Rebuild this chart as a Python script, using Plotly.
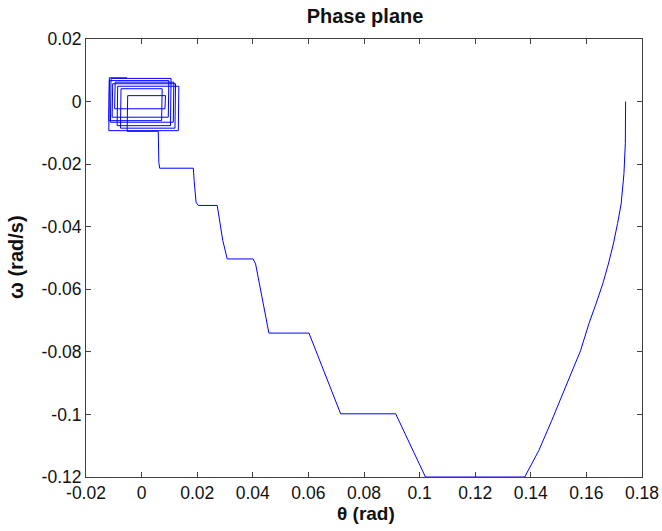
import plotly.graph_objects as go

# Trajectory vertices (theta in rad, omega in rad/s)
theta_main = [0.1741, 0.1740, 0.1735, 0.1725, 0.1712, 0.1697, 0.1679, 0.1659, 0.1637, 0.1609,
              0.1579, 0.1545, 0.1507, 0.1475, 0.1429, 0.1378, 0.1021, 0.0914, 0.0716, 0.0602,
              0.0458, 0.0422, 0.0410, 0.0401, 0.0308, 0.0292, 0.0280, 0.0272, 0.0204, 0.0196,
              0.0189, 0.0186, 0.0065, 0.0062, 0.0060]
omega_main = [0.0, -0.0135, -0.0231, -0.0327, -0.0390, -0.0455, -0.0519, -0.0582, -0.0640, -0.0710,
              -0.0796, -0.0870, -0.0955, -0.1020, -0.1115, -0.1200, -0.1200, -0.0998, -0.0998, -0.0740,
              -0.0740, -0.0572, -0.0519, -0.0503, -0.0503, -0.0444, -0.0370, -0.0332, -0.0332, -0.0322,
              -0.0252, -0.0213, -0.0213, -0.0194, -0.0095]

# rectangular spiral near the origin (edges read from the tangle)
theta_spiral = [-0.0052, -0.0050, 0.0086, 0.0084, -0.0097, -0.0095, 0.0116, 0.0114, -0.0112, -0.0110,
                0.0106, 0.0104, -0.0088, -0.0086, 0.0134, 0.0132, -0.0118, -0.0116, 0.0098, 0.0096,
                -0.0106, -0.0104, 0.0122, 0.0120, -0.0076, -0.0074, 0.0074, 0.0072, -0.0118, -0.0116,
                -0.0052]
omega_spiral = [-0.0095, 0.0019, 0.0019, -0.0023, -0.0023, 0.0062, 0.0062, -0.0066, -0.0066, 0.0074,
                0.0074, -0.0077, -0.0077, 0.0049, 0.0049, -0.0093, -0.0093, 0.0067, 0.0067, -0.0050,
                -0.0050, 0.0057, 0.0057, -0.0085, -0.0085, 0.0041, 0.0041, -0.0061, -0.0061, 0.0076,
                0.0076]

x_ticks = [-0.02, 0, 0.02, 0.04, 0.06, 0.08, 0.1, 0.12, 0.14, 0.16, 0.18]
x_labels = ["-0.02", "0", "0.02", "0.04", "0.06", "0.08", "0.1", "0.12", "0.14", "0.16", "0.18"]
y_ticks = [-0.12, -0.1, -0.08, -0.06, -0.04, -0.02, 0, 0.02]
y_labels = ["-0.12", "-0.1", "-0.08", "-0.06", "-0.04", "-0.02", "0", "0.02"]

theta = theta_main + theta_spiral
omega = omega_main + omega_spiral

fig = go.Figure()
fig.add_trace(go.Scatter(x=theta, y=omega, mode="lines",
                         line=dict(color="#0000ff", width=1), showlegend=False))

font_family = "Liberation Sans, Arial, Helvetica, sans-serif"
axis_common = dict(showline=True, linecolor="#404040", linewidth=1, mirror="allticks",
                   ticks="inside", ticklen=5, tickcolor="#404040", showgrid=False,
                   zeroline=False, tickfont=dict(family=font_family, size=17.5, color="#111111"))

fig.update_layout(
    width=662, height=531,
    margin=dict(l=86, r=20, t=39, b=54, autoexpand=False),
    paper_bgcolor="white", plot_bgcolor="white",
    title=dict(text="<b>Phase plane</b>", x=365 / 662, xanchor="center",
               y=1 - 16 / 531, yanchor="middle",
               font=dict(family=font_family, size=20, color="#111111")),
    xaxis=dict(range=[-0.02, 0.18], tickvals=x_ticks, ticktext=x_labels, **axis_common),
    yaxis=dict(range=[-0.12, 0.02], tickvals=y_ticks, ticktext=y_labels, **axis_common),
    annotations=[
        dict(text="<b>θ (rad)</b>", xref="paper", yref="paper", x=(366 - 86) / 556, y=-(513 - 477) / 438,
             xanchor="center", yanchor="middle", showarrow=False,
             font=dict(family=font_family, size=19, color="#111111")),
        dict(text="<b>ω (rad/s)</b>", xref="paper", yref="paper", x=(16 - 86) / 556, y=(477 - 257) / 438,
             xanchor="center", yanchor="middle", showarrow=False, textangle=-90,
             font=dict(family=font_family, size=20, color="#111111")),
    ],
)

fig.write_html("out.html", config={"displayModeBar": False},
               post_script="document.body.style.margin='0';document.body.style.overflow='hidden';")
